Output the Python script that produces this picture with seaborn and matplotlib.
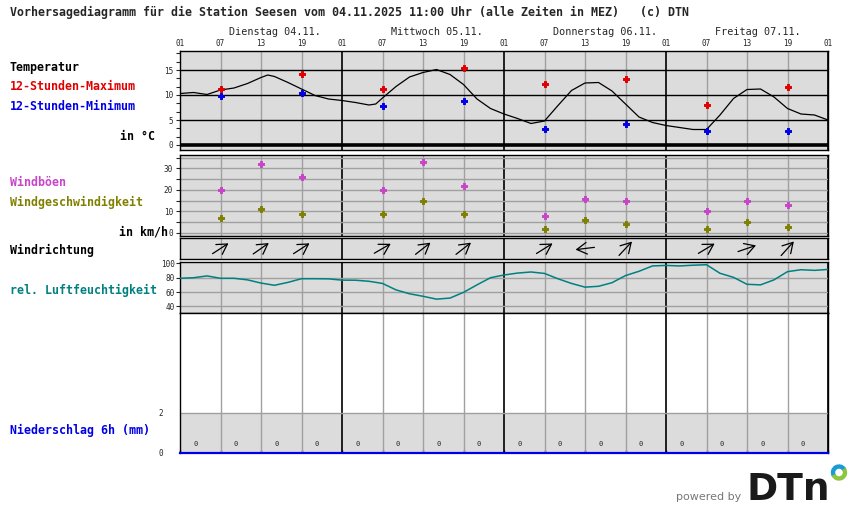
import numpy as np
import pandas as pd
import matplotlib
matplotlib.use("Agg")
import matplotlib.pyplot as plt
import seaborn as sns
from matplotlib.patches import Wedge
from matplotlib.ticker import MultipleLocator, FixedLocator
from matplotlib.transforms import offset_copy

# ---- data (hours counted from Tue 04.11. 01:00) ----
title = "Vorhersagediagramm für die Station Seesen vom 04.11.2025 11:00 Uhr (alle Zeiten in MEZ)   (c) DTN"
days = ["Dienstag 04.11.", "Mittwoch 05.11.", "Donnerstag 06.11.", "Freitag 07.11."]
hour_labels = ["01", "07", "13", "19"] * 4 + ["01"]

temp_hours = [0, 2, 4, 6, 8, 10, 12, 13, 14, 16, 18, 20, 22, 24, 26, 28, 29,
              30, 32, 34, 36, 38, 40, 42, 44, 46, 48, 50, 52, 54, 56, 58, 60,
              62, 64, 66, 68, 70, 72, 74, 76, 78, 80, 82, 84, 86, 88, 90, 92,
              94, 96]
temp_vals = [10.3, 10.5, 10.1, 11.0, 11.4, 12.3, 13.5, 14.0, 13.7, 12.5, 11.2,
             9.9, 9.2, 8.9, 8.5, 8.0, 8.2, 9.4, 11.7, 13.6, 14.5, 15.1, 14.1,
             12.1, 9.2, 7.3, 6.2, 5.3, 4.3, 4.8, 7.9, 10.9, 12.4, 12.5, 10.8,
             8.2, 5.6, 4.5, 3.9, 3.5, 3.1, 3.1, 6.0, 9.3, 11.1, 11.2, 9.6, 7.3,
             6.2, 6.0, 5.0]

extreme_hours = [6, 18, 30, 42, 54, 66, 78, 90]
temp_max = [11.2, 14.3, 11.3, 15.5, 12.2, 13.3, 8.1, 11.7]
temp_min = [9.8, 10.5, 7.8, 8.8, 3.3, 4.2, 2.8, 2.8]

wind_hours = [6, 12, 18, 30, 36, 42, 54, 60, 66, 78, 84, 90]
wind_gusts = [20, 32, 26, 20, 33, 22, 8, 16, 15, 10, 15, 13]
wind_speed = [7, 11, 9, 9, 15, 9, 2, 6, 4, 2, 5, 3]
wind_dir = [237, 235, 237, 240, 232, 232, 238, 83, 223, 239, 251, 222]  # direction wind comes from

hum_hours = list(range(0, 97, 2))
hum_vals = [79.2, 80, 82.5, 79.2, 79.2, 77, 72.5, 69.4, 73.5, 78.6,
            78.6, 78.4, 76.6, 76.5, 75, 72, 63, 57.5, 54, 50,
            51.5, 59.5, 70, 80, 83.8, 86.5, 88, 86, 78.5, 72,
            66.8, 68, 73, 83, 89, 96.5, 97.2, 96.5, 97.5, 98.2,
            86.2, 80.5, 70.8, 70, 77, 88.5, 91.2, 90.3, 91.6]

precip_hours = list(range(0, 96, 6))
precip_vals = [0] * 16

# ---- style ----
W, H, DPI = 850, 524, 100
GRAY_BG = "#dcdcdc"
GRID = "#a0a0a0"
RED, BLUE = "#e00000", "#0000e6"
MAGENTA, OLIVE, TEAL = "#c844c8", "#808000", "#008080"

sns.set_style("white")
plt.rcParams["font.family"] = ["DejaVu Sans Mono", "DejaVu Sans"]

fig = plt.figure(figsize=(W / DPI, H / DPI), dpi=DPI)


def add_panel(top, bottom, left=180, right=828):
    return fig.add_axes([left / W, 1 - bottom / H, (right - left) / W, (bottom - top) / H])


def vgrid(ax):
    for h in range(0, 97, 6):
        day_edge = h % 24 == 0
        ax.axvline(h, color="black" if day_edge else GRID, lw=1.2 if day_edge else 1, zorder=1)


def base(ax, bg=GRAY_BG):
    ax.set_facecolor(bg)
    ax.set_xlim(0, 96)
    for s in ax.spines.values():
        s.set_color("black")
        s.set_linewidth(1)
    ax.set_xlabel("")
    ax.set_ylabel("")
    vgrid(ax)


def marks(ax, x, y, c):
    sns.scatterplot(x=x, y=y, ax=ax, color=c, marker="P", s=16,
                    edgecolor=c, linewidth=0.7, zorder=4)


# temperature
ax_t = add_panel(51, 150)
base(ax_t)
ax_t.set_ylim(-1, 18.8)
for v in [5, 10, 15]:
    ax_t.axhline(v, color="black", lw=1, zorder=1)
ax_t.axhline(0, color="black", lw=2.6, zorder=1)
sns.lineplot(x=temp_hours, y=temp_vals, ax=ax_t, color="black", lw=0.9, zorder=3)
marks(ax_t, extreme_hours, temp_max, RED)
marks(ax_t, extreme_hours, temp_min, BLUE)
ax_t.set_yticks([0, 5, 10, 15])
ax_t.yaxis.set_minor_locator(MultipleLocator(5 / 3))
ax_t.tick_params(axis="y", which="both", left=True, direction="out", length=3, width=0.8,
                 labelsize=5.5, pad=2)
ax_t.xaxis.tick_top()
ax_t.set_xticks(range(0, 97, 6))
ax_t.set_xticklabels(hour_labels)
ax_t.tick_params(axis="x", length=0, labelsize=5.5, pad=2)

# wind speed / gusts
ax_w = add_panel(155, 236)
base(ax_w)
ax_w.set_ylim(-1.4, 36.2)
for v in range(0, 40, 5):
    ax_w.axhline(v, color=GRID, lw=1, zorder=1)
marks(ax_w, wind_hours, wind_gusts, MAGENTA)
marks(ax_w, wind_hours, wind_speed, OLIVE)
ax_w.set_yticks([0, 10, 20, 30])
ax_w.yaxis.set_minor_locator(FixedLocator([5, 15, 25, 35]))
ax_w.tick_params(axis="y", which="both", left=True, direction="out", length=3, width=0.8,
                 labelsize=5.5, pad=2)
ax_w.set_xticks([])

# wind direction arrows
ax_d = add_panel(238, 259)
base(ax_d)
ax_d.set_ylim(0, 1)
ax_d.set_yticks([])
ax_d.set_xticks([])
arrow_len = 19
for h, d in zip(wind_hours, wind_dir):
    ang = np.deg2rad(270 - d)
    dx, dy = arrow_len * np.cos(ang), arrow_len * np.sin(ang)
    head = offset_copy(ax_d.transData, fig=fig, x=dx / 2, y=dy / 2, units="dots")
    tail = offset_copy(ax_d.transData, fig=fig, x=-dx / 2, y=-dy / 2, units="dots")
    ax_d.annotate("", xy=(h, 0.5), xycoords=head, xytext=(h, 0.5), textcoords=tail,
                  arrowprops=dict(arrowstyle="->,head_length=0.6,head_width=0.35",
                                  color="black", lw=0.9, shrinkA=0, shrinkB=0,
                                  mutation_scale=12), zorder=4)

# relative humidity
ax_h = add_panel(262, 313)
base(ax_h)
ax_h.set_ylim(30.6, 102)
for v in [40, 60, 80]:
    ax_h.axhline(v, color=GRID, lw=1, zorder=1)
sns.lineplot(x=hum_hours, y=hum_vals, ax=ax_h, color=TEAL, lw=1.1, zorder=3)
ax_h.set_yticks([40, 60, 80, 100])
ax_h.tick_params(axis="y", left=True, direction="out", length=3, width=0.8, labelsize=5.5, pad=0.5)
ax_h.set_xticks([])

# precipitation
ax_p = add_panel(313, 453)
base(ax_p, bg="white")
ax_p.set_ylim(0, 7)
ax_p.axhspan(0, 2, color=GRAY_BG, zorder=0, lw=0)
ax_p.axhline(2, color=GRID, lw=1, zorder=1)
for h, v in zip(precip_hours, precip_vals):
    ax_p.text(h + 2.25, v + 0.45, f"{v:g}", ha="center", va="center", fontsize=5, zorder=4)
ax_p.set_yticks([0, 2])
ax_p.tick_params(axis="y", left=False, labelsize=5.5, pad=9)
ax_p.set_xticks(range(0, 97, 6))
ax_p.set_xticklabels([])
ax_p.tick_params(axis="x", bottom=True, direction="in", length=2.5, width=1, color=BLUE)
ax_p.spines["bottom"].set_color(BLUE)
ax_p.spines["bottom"].set_linewidth(1.6)

# ---- overlay for titles, side labels and logo (pixel coordinates) ----
ov = fig.add_axes([0, 0, 1, 1], zorder=10)
ov.set_xlim(0, W)
ov.set_ylim(H, 0)
ov.axis("off")

ov.text(10, 12, title, fontsize=8.4, fontweight="bold", va="center", ha="left")
for i, d in enumerate(days):
    xd = ax_t.transData.transform((24 * i + 7.3, 0))[0]
    ov.text(xd, 32, d, fontsize=7.3, va="center", ha="left")

side = [
    ("Temperatur", 67, "black", 10, "left"),
    ("12-Stunden-Maximum", 87, RED, 10, "left"),
    ("12-Stunden-Minimum", 107, BLUE, 10, "left"),
    ("in °C", 137, "black", 155, "right"),
    ("Windböen", 182, MAGENTA, 10, "left"),
    ("Windgeschwindigkeit", 202, OLIVE, 10, "left"),
    ("in km/h", 232, "black", 168, "right"),
    ("Windrichtung", 250, "black", 10, "left"),
    ("rel. Luftfeuchtigkeit", 290, TEAL, 10, "left"),
    ("Niederschlag 6h (mm)", 430, BLUE, 10, "left"),
]
for txt, y, c, x, ha in side:
    ov.text(x, y, txt, color=c, fontsize=8.4, fontweight="bold", va="center", ha=ha)

# powered by DTN
ov.text(741, 497, "powered by", fontsize=8, color="#777777", ha="right", va="center",
        family="DejaVu Sans")
ov.text(747, 500, "DTn", fontsize=27, fontweight="bold", color="#1a1a1a", ha="left",
        va="baseline", family="DejaVu Sans")
ov.add_patch(Wedge((839, 472.5), 7.5, 150, 330, width=3, color="#1b9ad6"))
ov.add_patch(Wedge((839, 472.5), 7.5, -30, 150, width=3, color="#8cc63f"))

fig.savefig("out.png", dpi=DPI)
